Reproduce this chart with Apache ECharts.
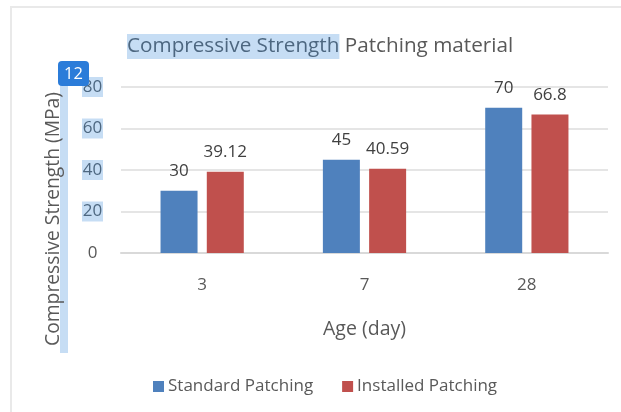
<!DOCTYPE html>
<html>
<head>
<meta charset="utf-8">
<style>
  html, body { margin: 0; padding: 0; background: #fff; }
  #main { width: 621px; height: 412px; }
</style>
<script src="https://cdn.jsdelivr.net/npm/echarts@6/dist/echarts.min.js"></script>
</head>
<body>
<div id="main"></div>
<script>
var ages = ["3", "7", "28"];
var standardPatching = [30, 45, 70];
var installedPatching = [39.12, 40.59, 66.8];
var yTicks = [0, 20, 40, 60, 80];

var fontName = "Open Sans";
var textGray = "#595959";
var highlight = "#C6DDF4";

var myChart = echarts.init(document.getElementById("main"));

function barLabel() {
  return {
    show: true,
    position: "top",
    distance: 11,
    color: "#404040",
    fontFamily: fontName,
    fontSize: 17,
  };
}

var option = {
  animation: false,
  backgroundColor: "#fff",
  title: {
    left: 127,
    top: 34,
    padding: 0,
    text: "{h|Compressive Strength}{p| Patching material}",
    textStyle: {
      rich: {
        h: {
          fontFamily: fontName,
          fontWeight: "normal",
          fontSize: 20.7,
          color: "#4D6780",
          backgroundColor: highlight,
          height: 25,
          lineHeight: 25,
        },
        p: {
          fontFamily: fontName,
          fontWeight: "normal",
          fontSize: 20.7,
          color: textGray,
          height: 25,
          lineHeight: 25,
        },
      },
    },
  },
  legend: {
    left: 153,
    top: 378,
    padding: 0,
    itemWidth: 11,
    itemHeight: 11,
    itemGap: 29,
    icon: "rect",
    textStyle: { color: textGray, fontFamily: fontName, fontSize: 17, padding: [0, 0, 0, -1] },
    data: ["Standard Patching", "Installed Patching"],
  },
  grid: { left: 121, right: 13, top: 87, bottom: 159 },
  xAxis: {
    type: "category",
    data: ages,
    name: "Age (day)",
    nameLocation: "middle",
    nameGap: 66,
    nameTextStyle: { color: textGray, fontFamily: fontName, fontSize: 19.5 },
    axisTick: { show: false },
    axisLine: { lineStyle: { color: "#D9D9D9", width: 2 } },
    axisLabel: { color: textGray, fontFamily: fontName, fontSize: 17, margin: 24 },
  },
  yAxis: {
    type: "value",
    min: yTicks[0],
    max: yTicks[yTicks.length - 1],
    interval: 20,
    name: "Compressive Strength (MPa)",
    nameLocation: "middle",
    nameGap: 58,
    nameRotate: 90,
    nameTextStyle: { color: textGray, fontFamily: fontName, fontSize: 19.3, padding: [0, 98, 0, 0] },
    axisLine: { show: false },
    axisTick: { show: false },
    splitLine: { lineStyle: { color: "#DDDDDD", width: 1.5 } },
    axisLabel: {
      margin: 18,
      formatter: function (v) {
        return v === 0 ? "{z|0}" : "{h|" + v + "}";
      },
      rich: {
        z: { color: textGray, fontFamily: fontName, fontSize: 17, width: 21, align: "center" },
        h: {
          color: "#4D6780",
          fontFamily: fontName,
          fontSize: 17,
          width: 21,
          height: 20,
          lineHeight: 20,
          align: "center",
          backgroundColor: highlight,
        },
      },
    },
  },
  series: [
    {
      name: "Standard Patching",
      type: "bar",
      data: standardPatching,
      barWidth: 37,
      barGap: "25%",
      itemStyle: { color: "#4F81BD" },
      label: barLabel(),
    },
    {
      name: "Installed Patching",
      type: "bar",
      data: installedPatching,
      barWidth: 37,
      itemStyle: { color: "#C0504D" },
      label: barLabel(),
    },
  ],
  graphic: [
    // chart frame, cut off by the screenshot on the right and bottom
    {
      type: "polyline",
      silent: true,
      shape: { points: [[11, 412], [11, 7], [621, 7]] },
      style: { stroke: "#E9E9E9", lineWidth: 2, fill: null },
    },
    // selection highlight next to the y axis title
    {
      type: "rect",
      silent: true,
      z: -1,
      shape: { x: 60, y: 85, width: 8, height: 268 },
      style: { fill: highlight },
    },
    // badge
    {
      type: "rect",
      silent: true,
      z: 100,
      shape: { x: 58, y: 61, width: 31, height: 25, r: 4 },
      style: { fill: "#2B7CD9" },
    },
    {
      type: "text",
      silent: true,
      z: 101,
      x: 73.5,
      y: 74,
      style: {
        text: "12",
        fill: "#fff",
        font: "16.5px " + fontName,
        align: "center",
        verticalAlign: "middle",
      },
    },
  ],
};

myChart.setOption(option);
</script>
</body>
</html>
